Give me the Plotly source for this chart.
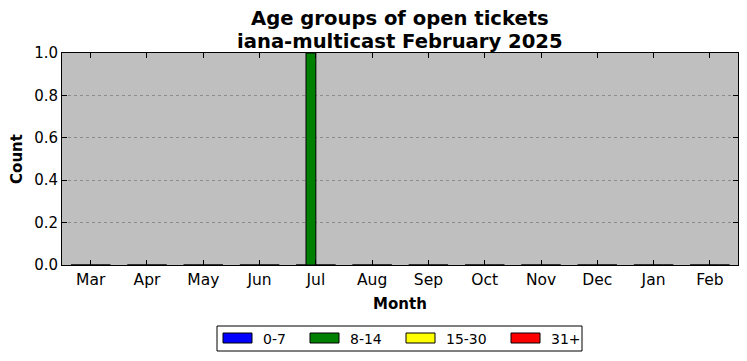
import plotly.graph_objects as go

months = ["Mar", "Apr", "May", "Jun", "Jul", "Aug", "Sep", "Oct", "Nov", "Dec", "Jan", "Feb"]
age_groups = ["0-7", "8-14", "15-30", "31+"]
colors = ["#0000ff", "#008000", "#ffff00", "#ff0000"]
counts = {
    "0-7":   [0, 0, 0, 0, 0, 0, 0, 0, 0, 0, 0, 0],
    "8-14":  [0, 0, 0, 0, 1, 0, 0, 0, 0, 0, 0, 0],
    "15-30": [0, 0, 0, 0, 0, 0, 0, 0, 0, 0, 0, 0],
    "31+":   [0, 0, 0, 0, 0, 0, 0, 0, 0, 0, 0, 0],
}
title_lines = ["Age groups of open tickets", "iana-multicast February 2025"]

font = "DejaVu Sans"
W, H = 747, 361
OFF = 8  # page body margin
PL, PR, PT, PB = 62, 738, 53, 265  # plot area in page pixels
L, T = PL - OFF, PT - OFF
R, B = W - (PR - OFF), H - (PB - OFF)
pw, ph = PR - PL, PB - PT

def px(x):
    return (x - PL) / pw

def py(y):
    return (PB - y) / ph

xs = list(range(len(months)))
bw = 0.175
fig = go.Figure()
for i, (g, c) in enumerate(zip(age_groups, colors)):
    fig.add_trace(go.Bar(
        x=xs, y=counts[g], name=g, width=bw,
        offset=-2 * bw + bw * i, showlegend=False,
        marker=dict(color=c, line=dict(color="black", width=1)),
    ))

annotations = []
for k, t in enumerate(title_lines):
    annotations.append(dict(text="<b>%s</b>" % t, xref="paper", yref="paper",
                            x=px(400), y=py(19 + 22 * k), xanchor="center", yanchor="middle",
                            showarrow=False, font=dict(size=19.6, family=font)))

shapes = [dict(type="rect", xref="paper", yref="paper",
               x0=px(217), x1=px(582), y0=py(326), y1=py(351),
               line=dict(color="black", width=1), fillcolor="white", layer="above")]
rect_x = [223, 310, 406, 511]
for i, (g, c) in enumerate(zip(age_groups, colors)):
    shapes.append(dict(type="rect", xref="paper", yref="paper",
                       x0=px(rect_x[i]), x1=px(rect_x[i] + 29), y0=py(333), y1=py(343),
                       line=dict(color="black", width=1), fillcolor=c, layer="above"))
    annotations.append(dict(text=g, xref="paper", yref="paper",
                            x=px(rect_x[i] + 38), y=py(338.5), xanchor="left", yanchor="middle",
                            showarrow=False, font=dict(size=14, family=font)))

fig.update_layout(
    width=W, height=H,
    margin=dict(l=L, r=R, t=T, b=B, autoexpand=False),
    paper_bgcolor="white", plot_bgcolor="#bfbfbf",
    font=dict(family=font, color="black", size=15),
    barmode="overlay",
    showlegend=False,
    annotations=annotations, shapes=shapes,
)
fig.update_xaxes(
    range=[-0.51, 11.5], tickmode="array", tickvals=xs, ticktext=months,
    ticks="inside", ticklen=5, tickcolor="black", mirror="allticks",
    showline=True, linecolor="black", linewidth=1, showgrid=False, zeroline=False,
    tickfont=dict(size=15.5), automargin=False,
    title=dict(text="<b>Month</b>", font=dict(size=15), standoff=10),
)
fig.update_yaxes(
    range=[0, 1], dtick=0.2, tickformat=".1f",
    ticks="inside", ticklen=5, tickcolor="black", mirror="allticks",
    showline=True, linecolor="black", linewidth=1,
    showgrid=True, gridcolor="#8c8c8c", griddash="dot", gridwidth=1, zeroline=False,
    tickfont=dict(size=15), automargin=False,
    title=dict(text="<b>Count</b>", font=dict(size=15), standoff=9),
)
fig.write_html("out.html")
